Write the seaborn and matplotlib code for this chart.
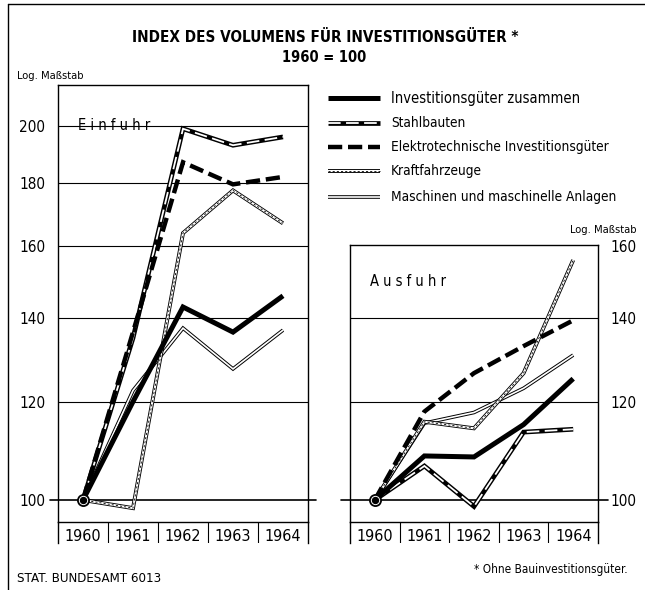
import os
import numpy as np
import pandas as pd
import matplotlib
matplotlib.use("Agg")
import matplotlib.pyplot as plt
import seaborn as sns
from matplotlib import font_manager as fm
from matplotlib.lines import Line2D
from matplotlib.ticker import NullLocator

years = [1960, 1961, 1962, 1963, 1964]
series = ["Investitionsgüter zusammen", "Stahlbauten",
          "Elektrotechnische Investitionsgüter", "Kraftfahrzeuge",
          "Maschinen und maschinelle Anlagen"]

# Einfuhr, 1960 = 100
imp_total = [100, 120, 143, 136.5, 146]
imp_steel = [100, 135, 199, 193, 196]
imp_elec = [100, 136.5, 187, 179.5, 182]
imp_cars = [100, 98.5, 164, 177.5, 167]
imp_mach = [100, 122.5, 137.5, 127.5, 137]

# Ausfuhr, 1960 = 100
exp_total = [100, 108.5, 108.3, 115, 125.2]
exp_steel = [100, 106.5, 98.8, 113.4, 114]
exp_elec = [100, 117.8, 126.5, 133, 139.5]
exp_cars = [100, 115.6, 114.2, 126.5, 156]
exp_mach = [100, 115.3, 117.6, 123, 130.8]

imp_ticks = [100, 120, 140, 160, 180, 200]
exp_ticks = [100, 120, 140, 160]

sns.set_style("white")
plt.rcParams["font.family"] = ["Liberation Sans", "DejaVu Sans"]
plt.rcParams["text.color"] = "black"
plt.rcParams["ytick.color"] = "black"


# the original uses a condensed grotesque; look for any narrow sans installed
def _weight(f):
    w = f.weight
    if isinstance(w, str):
        w = fm.weight_dict.get(w, 400)
    return w


def find_narrow(bold):
    best = None
    prefs = ["liberation", "dejavu", "noto", "roboto", "open", "lato", "inter"]
    for f in fm.fontManager.ttflist:
        nm = (f.name + " " + os.path.basename(f.fname)).lower()
        narrow = (f.stretch in ("condensed", "semi-condensed", "extra-condensed")
                  or "narrow" in nm or "condensed" in nm)
        if not narrow or f.style != "normal":
            continue
        if "mono" in nm or "serif" in nm or "cjk" in nm:
            continue
        if (_weight(f) >= 600) != bold:
            continue
        if "extra" in nm or "light" in nm or "thin" in nm or "black" in nm:
            continue
        rank = next((i for i, p in enumerate(prefs) if p in nm), 99)
        if best is None or rank < best[0]:
            best = (rank, f.fname)
    return best[1] if best else None


NARROW_R = find_narrow(False)
NARROW_B = find_narrow(True)
SCALE = 1.0 if NARROW_R else 0.9


def font(size, bold=False):
    path = NARROW_B if bold else NARROW_R
    if path:
        fp = fm.FontProperties(fname=path)
    else:
        fp = fm.FontProperties(family=["Liberation Sans", "DejaVu Sans"],
                               weight="bold" if bold else "normal")
    fp.set_size(size * SCALE)
    return fp


def long_df(vals):
    rows = []
    for name, v in zip(series, vals):
        for y, val in zip(years, v):
            rows.append((name, y, val))
    return pd.DataFrame(rows, columns=["series", "year", "value"])


df_imp = long_df([imp_total, imp_steel, imp_elec, imp_cars, imp_mach])
df_exp = long_df([exp_total, exp_steel, exp_elec, exp_cars, exp_mach])

# each line is stacked from a few strokes (black outline, white core, ...)
layers = {
    series[0]: [dict(color="black", lw=3.6)],
    series[1]: [dict(color="black", lw=3.4),
                dict(color="white", lw=1.3, ls=(0, (7, 3)))],
    series[2]: [dict(color="black", lw=3.2, ls=(0, (3.2, 1.3)))],
    series[3]: [dict(color="black", lw=2.8), dict(color="white", lw=1.5),
                dict(color="black", lw=0.6, ls=(0, (2.5, 2.5)))],
    series[4]: [dict(color="black", lw=2.6), dict(color="white", lw=1.2)],
}
draw_order = [series[4], series[3], series[1], series[2], series[0]]

W, H = 645, 590
fig = plt.figure(figsize=(W / 100, H / 100), dpi=100)


def fx(x):
    return x / W


def fy(y):
    return 1 - y / H


def panel(rect, df, top, ticks, right=False):
    ax = fig.add_axes(rect)
    for k, name in enumerate(draw_order):
        sub = df[df["series"] == name]
        for j, st in enumerate(layers[name]):
            sns.lineplot(data=sub, x="year", y="value", ax=ax, color=st["color"],
                         lw=st["lw"], linestyle=st.get("ls", "-"), errorbar=None,
                         zorder=3 + k + 0.1 * j, solid_joinstyle="miter",
                         dash_joinstyle="miter", dash_capstyle="butt",
                         solid_capstyle="butt", legend=False)
    ax.set_yscale("log")
    ax.set_xlim(1959.5, 1964.5)
    ax.set_ylim(96.0, top)
    ax.set_xlabel("")
    ax.set_ylabel("")
    ax.set_xticks([])
    ax.set_yticks(ticks)
    ax.set_yticklabels([str(t) for t in ticks])
    ax.yaxis.set_minor_locator(NullLocator())
    if right:
        ax.yaxis.tick_right()
    ax.tick_params(axis="y", length=0, pad=9)
    for lbl in ax.get_yticklabels():
        lbl.set_fontproperties(font(11))
    for t in ticks[1:]:
        if t < top * 0.99:
            ax.axhline(t, color="black", lw=0.8, zorder=1)
    for s in ax.spines.values():
        s.set_visible(True)
        s.set_color("black")
        s.set_linewidth(1.0)
    ax.plot(1960, 100, "o", ms=8, mfc="white", mec="black", mew=1.3, zorder=20)
    ax.plot(1960, 100, "o", ms=4.3, color="black", zorder=21)
    return ax


def year_strip(rect):
    s = fig.add_axes(rect)
    s.set_xlim(1959.5, 1964.5)
    s.set_ylim(0, 1)
    s.patch.set_alpha(0)
    s.spines["top"].set_visible(False)
    s.spines["bottom"].set_visible(False)
    for side in ["left", "right"]:
        s.spines[side].set_color("black")
        s.spines[side].set_linewidth(1.0)
    s.set_xticks([])
    s.set_yticks([])
    for x in years[:-1]:
        s.axvline(x + 0.5, color="black", lw=0.8)
    for x in years:
        s.text(x, 0.32, str(x), ha="center", va="center", fontproperties=font(11.5))
    return s


ax1 = panel([fx(58), fy(522), fx(250), (522 - 85) / H], df_imp, 215.8, imp_ticks)
ax2 = panel([fx(350), fy(522), fx(248), (522 - 245) / H], df_exp, 160.4, exp_ticks,
            right=True)
ax1.axhline(100, xmin=-0.032, xmax=1.032, color="black", lw=1.2, clip_on=False, zorder=2)
ax2.axhline(100, xmin=-0.036, xmax=1.04, color="black", lw=1.2, clip_on=False, zorder=2)
year_strip([fx(58), fy(543), fx(250), 21 / H])
year_strip([fx(350), fy(543), fx(248), 21 / H])

ax1.text(fx(78 - 58) / fx(250), 0.907, "E i n f u h r", transform=ax1.transAxes,
         fontproperties=font(10.5), va="center", ha="left")
ax2.text(fx(370 - 350) / fx(248), 0.87, "A u s f u h r", transform=ax2.transAxes,
         fontproperties=font(10.5), va="center", ha="left")

# title block
fig.text(fx(325), fy(38), "INDEX DES VOLUMENS FÜR INVESTITIONSGÜTER *", ha="center",
         va="center", fontproperties=font(11, bold=True))
fig.text(fx(324), fy(58), "1960 = 100", ha="center", va="center",
         fontproperties=font(10.5, bold=True))
fig.text(fx(17), fy(76), "Log. Maßstab", ha="left", va="center", fontproperties=font(8))
fig.text(fx(636), fy(230), "Log. Maßstab", ha="right", va="center",
         fontproperties=font(8))

# legend drawn by hand to keep the stacked line styles
legend_y = [98, 123, 147, 171, 197]
for name, ly in zip(series, legend_y):
    for j, st in enumerate(layers[name]):
        fig.add_artist(Line2D([fx(328), fx(380)], [fy(ly), fy(ly)],
                              transform=fig.transFigure, color=st["color"],
                              lw=st["lw"], linestyle=st.get("ls", "-"),
                              solid_capstyle="butt", dash_capstyle="butt"))
    fig.text(fx(391), fy(ly), name, ha="left", va="center",
             fontproperties=font(10.5 if name == series[0] else 9.8))

fig.text(fx(628), fy(569), "* Ohne Bauinvestitionsgüter.", ha="right", va="center",
         fontproperties=font(8.5))
fig.text(fx(17), fy(579), "STAT. BUNDESAMT 6013", ha="left", va="center",
         fontsize=8.6, family="DejaVu Sans")

# outer frame (top and left only)
fig.add_artist(Line2D([fx(8), fx(8)], [0, fy(4)], transform=fig.transFigure,
                      color="black", lw=1.0))
fig.add_artist(Line2D([fx(8), 1], [fy(4), fy(4)], transform=fig.transFigure,
                      color="black", lw=1.0))

fig.savefig("out.png", dpi=100, facecolor="white")
